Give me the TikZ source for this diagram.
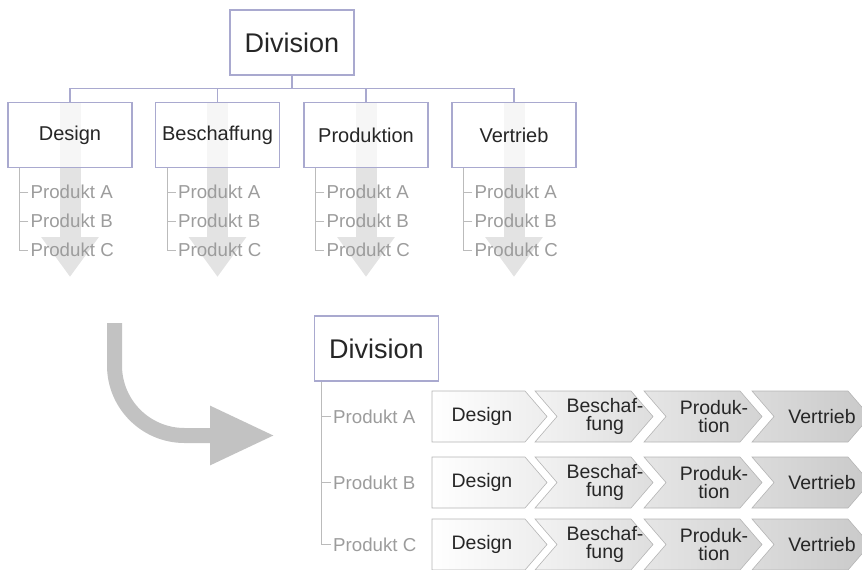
\documentclass[tikz,border=0pt]{standalone}
\usepackage{fontspec}
\setmainfont{Liberation Sans}
\usetikzlibrary{arrows.meta, positioning, calc}
\definecolor{boxline}{HTML}{A9A9CF}
\definecolor{treeline}{HTML}{BBBBBB}
\definecolor{prodtext}{HTML}{9C9C9C}
\definecolor{chevline}{HTML}{B5B5B5}

\begin{document}
\begin{tikzpicture}[x=1pt, y=-1pt,
    divbox/.style={draw=boxline, line width=1.1pt, fill=white, minimum width=124pt, minimum height=65pt, inner sep=0pt, font=\fontsize{27}{29}\selectfont, text=black!85},
    deptbox/.style={draw=boxline, line width=1.1pt, fill=white, fill opacity=0.7, text opacity=1, minimum width=124pt, minimum height=65pt, inner sep=0pt, font=\fontsize{20}{22}\selectfont, text=black!85},
    link/.style={draw=boxline, line width=1.1pt},
    prod/.style={anchor=west, inner sep=2pt, text=prodtext, font=\fontsize{18.7}{20}\selectfont},
    tree/.style={draw=treeline, line width=0.8pt},
    downarrow/.style={draw=black!11, line width=21pt, -{Triangle[width=55pt, length=40pt]}},
    bigarrow/.style={draw=black!24, line width=15pt, rounded corners=70pt, -{Triangle[width=55pt, length=65pt]}},
    chev/.style={draw=chevline, line width=0.6pt},
    chevtext/.style={align=center, inner sep=0pt, text=black!85, font=\fontsize{19.5}{18}\selectfont}
]
\useasboundingbox (0,0) rectangle (862,570);

% Columns (arrows behind the boxes)
\foreach \i/\x in {1/70, 2/217.5, 3/366, 4/514} {
    \coordinate (c\i) at (\x,102);
    \draw[downarrow] (c\i) -- ++(0,175);
}

% Top chart
\node[divbox] (divtop) at (292,42.5) {Division};
\node[deptbox, anchor=north] (d1) at (c1) {Design};
\node[deptbox, anchor=north] (d2) at (c2) {Beschaffung};
\node[deptbox, anchor=north] (d3) at (c3) {Produktion};
\node[deptbox, anchor=north] (d4) at (c4) {Vertrieb};
\foreach \i in {1,...,4}
    \draw[link] (divtop.south) -- ++(0,13) -| (d\i.north);

% Products under each department
\foreach \i in {1,...,4} {
    \node[prod] (p\i A) at ($(d\i.south west)+(21,24)$) {Produkt A};
    \node[prod] (p\i B) at ($(d\i.south west)+(21,53)$) {Produkt B};
    \node[prod] (p\i C) at ($(d\i.south west)+(21,82)$) {Produkt C};
    \draw[tree] ($(d\i.south west)+(12,0)$) |- (p\i C.west);
    \draw[tree] (p\i A.west) -- ++(-9,0);
    \draw[tree] (p\i B.west) -- ++(-9,0);
}

% Curved arrow
\coordinate (arrstart) at (114.5,323);
\coordinate (arrend) at (275,435.5);
\draw[bigarrow] (arrstart) |- (arrend);

% Bottom chart
\node[divbox] (divbot) at (376.5,348.5) {Division};
\foreach \r/\y in {A/416.5, B/482.5, C/544.5} {
    \node[prod] (pb\r) at (331,\y) {Produkt \r};
    \draw[tree] (pb\r.west) -- ++(-9,0);
    % process chevrons: left / tip / notch / shading / text centre
    \foreach \l/\t/\n/\ca/\cb/\tx/\txt [count=\k] in {
        432/547/0/0/7/482/Design,
        535/653/22/5/13/605/{Beschaf-\\fung},
        644/762/22/10/17/714/{Produk-\\tion},
        752/870/22/14/21/822/Vertrieb} {
        \path[chev, left color=black!\ca, right color=black!\cb]
            (\l,\y-25.5) -- (\t-22,\y-25.5) -- (\t,\y) -- (\t-22,\y+25.5)
            -- (\l,\y+25.5) -- (\l+\n,\y) -- cycle;
        \node[chevtext] (s\r\k) at (\tx,\y) {\txt};
    }
}
\draw[tree] ($(divbot.south west)+(7,0)$) |- (pbC.west);

\end{tikzpicture}
\end{document}
